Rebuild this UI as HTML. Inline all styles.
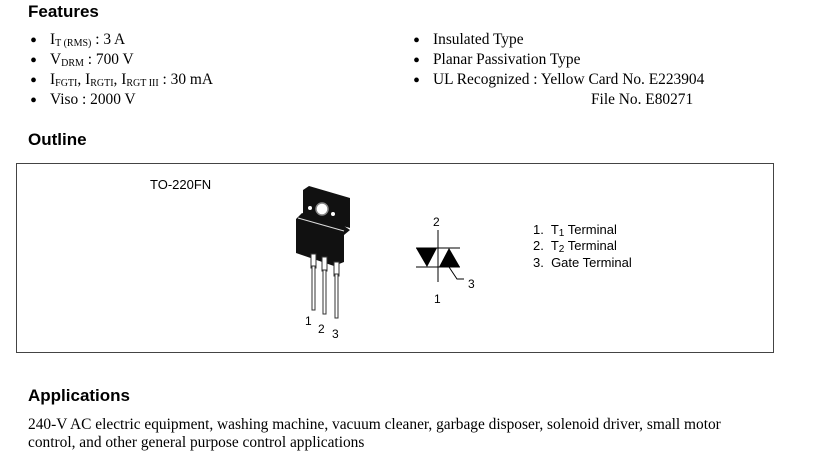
<!DOCTYPE html>
<html><head><style>
body{margin:0;width:819px;height:469px;background:#fff;position:relative;overflow:hidden;font-family:"Liberation Serif",serif;color:#000}
.a{position:absolute;white-space:nowrap}
h{position:absolute;font-family:"Liberation Sans",sans-serif;font-weight:bold;font-size:17px}
.t{font-size:15.4px}
.b{font-size:20px;line-height:16px}
sub{font-size:10px;vertical-align:-2px}
.s{font-family:"Liberation Sans",sans-serif;font-size:13px}
</style></head><body>
<h style="left:28px;top:2px">Features</h>
<div class="a b" style="left:30px;top:33px">•</div><div class="a t" style="left:50px;top:31px">I<sub>T (RMS)</sub> : 3 A</div>
<div class="a b" style="left:30px;top:53px">•</div><div class="a t" style="left:50px;top:51px">V<sub>DRM</sub> : 700 V</div>
<div class="a b" style="left:30px;top:73px">•</div><div class="a t" style="left:50px;top:71px">I<sub>FGTI</sub>, I<sub>RGTI</sub>, I<sub>RGT III</sub> : 30 mA</div>
<div class="a b" style="left:30px;top:93px">•</div><div class="a t" style="left:50px;top:91px">Viso : 2000 V</div>
<div class="a b" style="left:413px;top:33px">•</div><div class="a t" style="left:433px;top:31px">Insulated Type</div>
<div class="a b" style="left:413px;top:53px">•</div><div class="a t" style="left:433px;top:51px">Planar Passivation Type</div>
<div class="a b" style="left:413px;top:73px">•</div><div class="a t" style="left:433px;top:71px">UL Recognized : Yellow Card No. E223904</div>
<div class="a t" style="left:591px;top:91px">File No. E80271</div>
<h style="left:28px;top:130px">Outline</h>
<div class="a" style="left:16px;top:163px;width:756px;height:188px;border:1px solid #444"></div>
<div class="a s" style="left:150px;top:177px">TO-220FN</div>
<svg class="a" style="left:0;top:0" width="819" height="469">
<g fill="#111">
<polygon points="303,190 309,186 350,198 350,228 303,215"/>
<polygon points="296,219 302,213 344,226 350,230 344,235 344,262 334,266 296,253"/>
</g>
<line x1="298" y1="218" x2="344" y2="231" stroke="#ddd" stroke-width="1"/>
<circle cx="322" cy="209" r="6" fill="#fff" stroke="#888" stroke-width="1.5"/>
<circle cx="310" cy="208" r="2" fill="#fff"/><circle cx="333" cy="214" r="2" fill="#fff"/>
<g fill="#fff" stroke="#333" stroke-width="1">
<rect x="311" y="254" width="5" height="14"/><rect x="322" y="257" width="5" height="14"/><rect x="334" y="262" width="5" height="14"/>
<rect x="312" y="266" width="3" height="44"/><rect x="323" y="270" width="3" height="44"/><rect x="335" y="274" width="3" height="44"/>
</g>
<g stroke="#000" stroke-width="1" fill="none">
<line x1="438" y1="230" x2="438" y2="282"/>
<line x1="416" y1="248" x2="460" y2="248"/>
<line x1="416" y1="267" x2="460" y2="267"/>
<polyline points="449,267 457,279 464,279"/>
</g>
<polygon points="416,248 437,248 427,267" fill="#000"/>
<polygon points="439,267 460,267 449,248" fill="#000"/>
<text x="433" y="226" font-family="Liberation Sans" font-size="12">2</text>
<text x="468" y="288" font-family="Liberation Sans" font-size="12">3</text>
<text x="434" y="303" font-family="Liberation Sans" font-size="12">1</text>
<text x="305" y="325" font-family="Liberation Sans" font-size="12">1</text>
<text x="318" y="333" font-family="Liberation Sans" font-size="12">2</text>
<text x="332" y="338" font-family="Liberation Sans" font-size="12">3</text>
</svg>
<div class="a s" style="left:533px;top:222px">1.&nbsp; T<sub style="font-size:10px">1</sub> Terminal</div>
<div class="a s" style="left:533px;top:238px">2.&nbsp; T<sub style="font-size:10px">2</sub> Terminal</div>
<div class="a s" style="left:533px;top:255px">3.&nbsp; Gate Terminal</div>
<h style="left:28px;top:386px">Applications</h>
<div class="a t" style="left:28px;top:416px">240-V AC electric equipment, washing machine, vacuum cleaner, garbage disposer, solenoid driver, small motor</div>
<div class="a t" style="left:28px;top:434px">control, and other general purpose control applications</div>
</body></html>
